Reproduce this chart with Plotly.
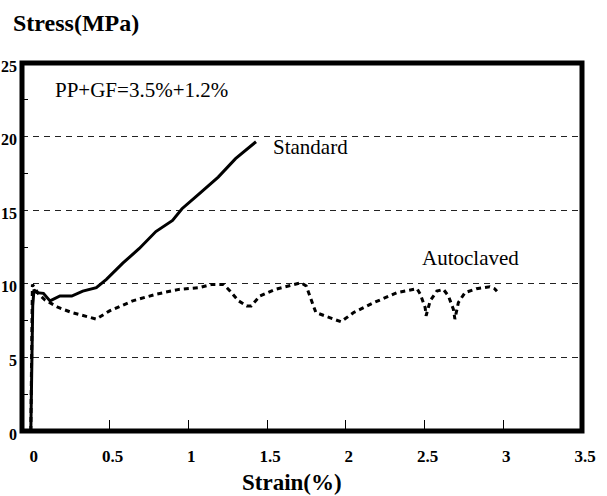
import plotly.graph_objects as go

# ---- data ----
std_strain = [0.0, 0.005, 0.012, 0.02, 0.038, 0.08, 0.122, 0.185, 0.26, 0.33, 0.416, 0.48,
              0.584, 0.689, 0.794, 0.90, 0.96, 1.067, 1.19, 1.30, 1.43]
std_stress = [0.0, 4.0, 8.5, 9.6, 9.4, 9.35, 8.84, 9.17, 9.17, 9.5, 9.74, 10.3,
              11.4, 12.4, 13.55, 14.3, 15.1, 16.1, 17.25, 18.5, 19.65]

auto_strain = [0.0, 0.004, 0.01, 0.02, 0.05, 0.09, 0.175, 0.26, 0.33, 0.416, 0.5, 0.647,
               0.794, 0.94, 1.067, 1.15, 1.224, 1.266, 1.319, 1.371, 1.40, 1.455, 1.55,
               1.654, 1.717, 1.749, 1.78, 1.81, 1.865, 1.97, 2.05, 2.18, 2.326, 2.452,
               2.473, 2.504, 2.51, 2.536, 2.578, 2.62, 2.652, 2.683, 2.693, 2.715, 2.757,
               2.83, 2.914, 2.945, 2.96]
auto_stress = [0.0, 5.0, 9.95, 9.8, 9.3, 8.9, 8.39, 8.05, 7.83, 7.6, 8.16, 8.84,
               9.29, 9.62, 9.74, 9.96, 9.96, 9.5, 8.84, 8.5, 8.5, 9.17, 9.62,
               9.9, 10.07, 9.85, 8.95, 8.05, 7.83, 7.42, 8.05, 8.73, 9.4, 9.67,
               9.29, 8.39, 7.83, 8.84, 9.5, 9.62, 9.17, 8.28, 7.6, 8.73, 9.4,
               9.67, 9.8, 9.67, 9.5]

x_tickvals = [0, 0.5, 1, 1.5, 2, 2.5, 3, 3.5]
x_ticktext = ["0", "0.5", "1", "1.5", "2", "2.5", "3", "3.5"]
y_tickvals = [0, 5, 10, 15, 20, 25]
y_ticktext = ["0", "5", "10", "15", "20", "25"]
y_minor_tickvals = [2.5, 7.5, 12.5, 17.5, 22.5]

series_names = ["Standard", "Autoclaved"]
note_text = "PP+GF=3.5%+1.2%"
x_title = "Strain(%)"
y_title = "Stress(MPa)"

# ---- layout geometry ----
W, H = 607, 496
L, R, T, B = 21.5, 24.5, 63, 64.5
PW, PH = W - L - R, H - T - B

def px(x):
    return (x - L) / PW

def py(y):
    return (H - B - y) / PH

SERIF = "Liberation Serif"

fig = go.Figure()
fig.add_trace(go.Scatter(x=std_strain, y=std_stress, mode="lines", name=series_names[0],
                         line=dict(color="black", width=3)))
fig.add_trace(go.Scatter(x=auto_strain, y=auto_stress, mode="lines", name=series_names[1],
                         line=dict(color="black", width=3, dash="5px,4px")))

fig.update_layout(
    width=W, height=H, template="none",
    margin=dict(l=L, r=R, t=T, b=B, pad=0),
    paper_bgcolor="white", plot_bgcolor="white",
    showlegend=False,
    font=dict(family=SERIF, color="black"),
    xaxis=dict(range=[-0.056, 3.5], tickvals=x_tickvals, ticktext=x_ticktext,
               ticks="inside", ticklen=11, tickwidth=1, tickcolor="black",
               showgrid=False, zeroline=False, automargin=False, showline=False,
               ticklabelstandoff=13, ticklabelshift=3,
               tickfont=dict(size=17, family=SERIF, weight="bold")),
    yaxis=dict(range=[0, 25], tickvals=y_tickvals, ticktext=y_ticktext,
               ticks="", showgrid=True, gridcolor="#222", gridwidth=1, griddash="6px,5px",
               zeroline=False, automargin=False, showline=False,
               ticklabelstandoff=4, ticklabelshift=3,
               minor=dict(tickvals=y_minor_tickvals, ticks="inside",
                          ticklen=6, tickcolor="black", showgrid=False),
               tickfont=dict(size=16, family=SERIF, weight="bold")),
)

# thick frame, centred on the plot-area edges
fig.add_shape(type="rect", xref="paper", yref="paper", x0=0, x1=1, y0=0, y1=1,
              line=dict(color="black", width=5), fillcolor="rgba(0,0,0,0)", layer="above")

annots = [
    dict(text=y_title, x=px(10), y=py(23), xanchor="left", size=24, bold=True),
    dict(text=x_title, x=px(292), y=py(483), xanchor="center", size=23, bold=True),
    dict(text=note_text, x=px(53), y=py(90), xanchor="left", size=21, bold=False),
    dict(text=series_names[0], x=px(271), y=py(147), xanchor="left", size=21, bold=False),
    dict(text=series_names[1], x=px(420), y=py(258), xanchor="left", size=21, bold=False),
]
for a in annots:
    fig.add_annotation(text=a["text"], x=a["x"], y=a["y"], xref="paper", yref="paper",
                       xanchor=a["xanchor"], yanchor="middle", showarrow=False,
                       font=dict(family=SERIF, size=a["size"], color="black",
                                 weight="bold" if a["bold"] else "normal"))

fig.write_html("out.html")
